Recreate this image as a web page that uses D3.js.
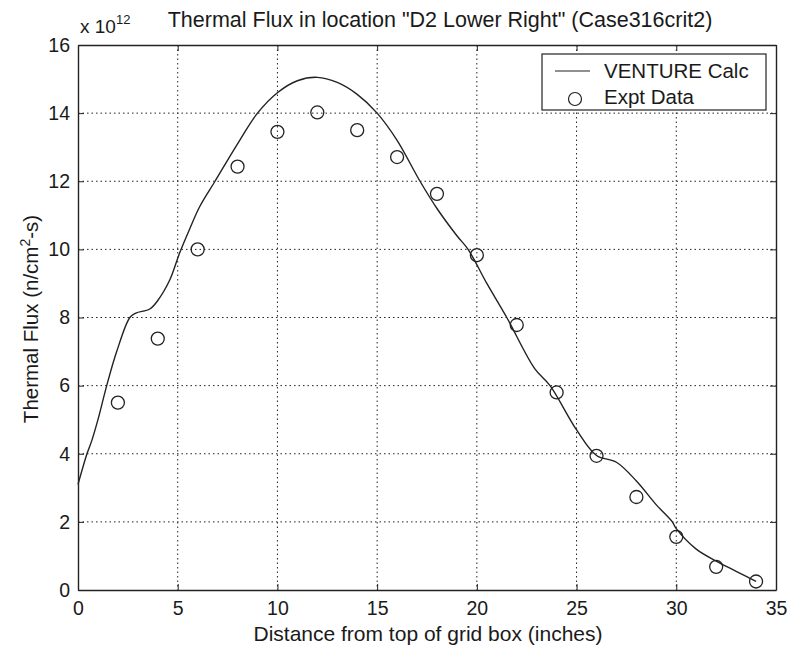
<!DOCTYPE html>
<html><head><meta charset="utf-8">
<script src="https://cdn.jsdelivr.net/npm/d3@7"></script>
<style>body{margin:0;background:#fff;} text{font-family:"Liberation Sans",Arial,sans-serif;fill:#1a1a1a;}</style>
</head><body><svg id="c" width="789" height="654"></svg>
<script>
const xTicks = [0,5,10,15,20,25,30,35];
const yTicks = [0,2,4,6,8,10,12,14,16];
const calcX = [0,0.45,0.7,1.0,1.44,1.94,2.6,2.9,3.6,4.0,4.6,5.1,5.6,6.1,6.87,8.0,9.0,10.0,11.0,12.0,13.0,14.0,15.0,16.0,17.15,18.0,19.0,19.56,20.5,21.5,22.9,23.67,25.0,26.0,27.0,28.0,29.0,29.8,30.0,31.0,32.0,33.0,34.0];
const calcY = [3.1,4.0,4.4,5.0,6.0,7.0,8.0,8.13,8.25,8.5,9.1,9.9,10.6,11.25,12.0,13.1,14.0,14.6,14.95,15.05,14.9,14.55,14.0,13.2,12.0,11.2,10.4,10.0,9.0,8.0,6.5,6.0,4.7,3.95,3.75,3.2,2.5,2.0,1.8,1.2,0.85,0.55,0.25];
const exptX = [2,4,6,8,10,12,14,16,18,20,22,24,26,28,30,32,34];
const exptY = [5.5,7.38,10.0,12.43,13.45,14.02,13.5,12.71,11.63,9.83,7.78,5.8,3.94,2.73,1.56,0.68,0.25];

const svg = d3.select("#c");
const L=78, R=776, T=45, B=590;
const x = d3.scaleLinear().domain([0,35]).range([L,R]);
const y = d3.scaleLinear().domain([0,16]).range([B,T]);
const ink = "#222";

// grid
const g = svg.append("g");
g.selectAll("line.gx").data(xTicks.slice(1,-1)).enter().append("line")
  .attr("x1",d=>x(d)).attr("x2",d=>x(d)).attr("y1",T).attr("y2",B)
  .attr("stroke",ink).attr("stroke-width",1).attr("stroke-dasharray","1.5,3");
g.selectAll("line.gy").data(yTicks.slice(1,-1)).enter().append("line")
  .attr("y1",d=>y(d)).attr("y2",d=>y(d)).attr("x1",L).attr("x2",R)
  .attr("stroke",ink).attr("stroke-width",1).attr("stroke-dasharray","1.5,3");

// axes with inward ticks
const fmt = d3.format("d");
const xa = svg.append("g").attr("transform",`translate(0,${B})`)
  .call(d3.axisBottom(x).tickValues(xTicks).tickSizeInner(-6).tickSizeOuter(0).tickPadding(11).tickFormat(fmt));
const ya = svg.append("g").attr("transform",`translate(${L},0)`)
  .call(d3.axisLeft(y).tickValues(yTicks).tickSizeInner(-6).tickSizeOuter(0).tickPadding(8).tickFormat(fmt));
svg.append("g").attr("transform",`translate(0,${T})`)
  .call(d3.axisTop(x).tickValues(xTicks).tickSizeInner(-6).tickSizeOuter(0).tickFormat(""));
svg.append("g").attr("transform",`translate(${R},0)`)
  .call(d3.axisRight(y).tickValues(yTicks).tickSizeInner(-6).tickSizeOuter(0).tickFormat(""));
svg.selectAll(".domain").attr("stroke",ink).attr("stroke-width",1.4);
svg.selectAll(".tick line").attr("stroke",ink);
svg.selectAll(".tick text").style("font-size","19.5px").attr("fill","#1a1a1a");
xa.selectAll(".tick text").attr("dy","0.72em");

// calc line
svg.append("path").datum(calcX.map((d,i)=>[d,calcY[i]]))
  .attr("d", d3.line().x(d=>x(d[0])).y(d=>y(d[1])).curve(d3.curveCatmullRom.alpha(0.5)))
  .attr("fill","none").attr("stroke",ink).attr("stroke-width",1.4);

// expt points
svg.selectAll("circle.e").data(exptX.map((d,i)=>[d,exptY[i]])).enter().append("circle")
  .attr("cx",d=>x(d[0])).attr("cy",d=>y(d[1])).attr("r",6.5)
  .attr("fill","none").attr("stroke",ink).attr("stroke-width",1.3);

// legend
const lg = svg.append("g");
lg.append("rect").attr("x",542).attr("y",54).attr("width",224).attr("height",56)
  .attr("fill","#fff").attr("stroke",ink).attr("stroke-width",1.2);
lg.append("line").attr("x1",555).attr("x2",590).attr("y1",71).attr("y2",71).attr("stroke",ink).attr("stroke-width",1.2);
lg.append("text").attr("x",604).attr("y",78).style("font-size","20.5px").text("VENTURE Calc");
lg.append("circle").attr("cx",575).attr("cy",99).attr("r",6.5).attr("fill","none").attr("stroke",ink).attr("stroke-width",1.2);
lg.append("text").attr("x",604).attr("y",104).style("font-size","20.5px").text("Expt Data");

// titles
svg.append("text").attr("x",440).attr("y",27).attr("text-anchor","middle").style("font-size","21.5px")
  .text("Thermal Flux in location \"D2 Lower Right\" (Case316crit2)");
const ex = svg.append("text").attr("x",80).attr("y",33).style("font-size","19px");
ex.append("tspan").text("x 10");
ex.append("tspan").attr("dy",-9).style("font-size","13px").text("12");
svg.append("text").attr("x",428).attr("y",641).attr("text-anchor","middle").style("font-size","21px")
  .text("Distance from top of grid box (inches)");
const yl = svg.append("text").attr("transform","translate(38,319) rotate(-90)").attr("text-anchor","middle").style("font-size","20.5px");
yl.append("tspan").text("Thermal Flux (n/cm");
yl.append("tspan").attr("dy",-8).style("font-size","14px").text("2");
yl.append("tspan").attr("dy",8).text("-s)");
</script></body></html>
